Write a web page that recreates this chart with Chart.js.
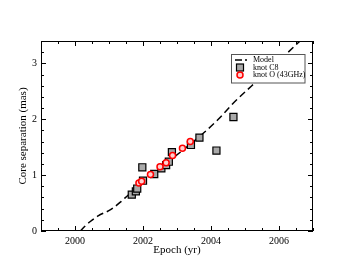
<!DOCTYPE html>
<html>
<head>
<meta charset="utf-8">
<script src="https://cdn.jsdelivr.net/npm/chart.js@4/dist/chart.umd.min.js"></script>
<style>
  body { margin: 0; background: #fff; }
  canvas { display: block; }
</style>
</head>
<body>
<canvas id="sep" width="353" height="273"></canvas>
<script>
// model curve
const modelEpoch = [2000.16, 2000.3, 2000.45, 2000.68, 2001.07, 2001.36, 2001.56, 2001.7, 2002.2, 2002.7, 2003.2, 2003.68, 2004.2, 2004.66, 2005.2, 2005.7, 2006.2, 2006.62];
const modelSep = [0, 0.09, 0.17, 0.27, 0.39, 0.53, 0.64, 0.71, 0.97, 1.22, 1.46, 1.70, 1.99, 2.29, 2.60, 2.88, 3.16, 3.40];

// knot C8
const c8Epoch = [2001.67, 2001.79, 2001.83, 2002.0, 2001.98, 2002.33, 2002.54, 2002.68, 2002.76, 2002.85, 2003.41, 2003.66, 2004.16, 2004.66];
const c8Sep = [0.65, 0.71, 0.76, 0.90, 1.14, 1.02, 1.12, 1.18, 1.24, 1.41, 1.54, 1.67, 1.44, 2.04];

// knot O (43GHz)
const oEpoch = [2001.88, 2001.96, 2002.22, 2002.5, 2002.68, 2002.87, 2003.16, 2003.39];
const oSep = [0.86, 0.89, 1.01, 1.15, 1.22, 1.35, 1.48, 1.60];

const xMajor = [2000, 2002, 2004, 2006];
const yMajor = [0, 1, 2, 3];

const serif = "'Liberation Serif', 'Times New Roman', serif";

function toPoints(xs, ys) {
  return xs.map((x, i) => ({ x: x, y: ys[i] }));
}

function isMajor(v, list) {
  return list.some((m) => Math.abs(m - v) < 1e-6);
}

// frame, inward ticks on all four sides, legend
const framePlugin = {
  id: "frame",
  afterDraw(chart) {
    const ctx = chart.ctx;
    const a = chart.chartArea;
    const xs = chart.scales.x;
    const ys = chart.scales.y;
    ctx.save();
    ctx.strokeStyle = "#000";
    ctx.lineWidth = 1;
    ctx.strokeRect(a.left + 0.5, a.top + 0.5, a.right - a.left - 1, a.bottom - a.top - 1);

    xs.ticks.forEach((t) => {
      const px = Math.round(xs.getPixelForValue(t.value)) + 0.5;
      const len = isMajor(t.value, xMajor) ? 5 : 3;
      ctx.beginPath();
      ctx.moveTo(px, a.bottom);
      ctx.lineTo(px, a.bottom - len);
      ctx.moveTo(px, a.top);
      ctx.lineTo(px, a.top + len);
      ctx.stroke();
    });
    ys.ticks.forEach((t) => {
      const py = Math.round(ys.getPixelForValue(t.value)) + 0.5;
      const len = isMajor(t.value, yMajor) ? 5 : 3;
      ctx.beginPath();
      ctx.moveTo(a.left, py);
      ctx.lineTo(a.left + len, py);
      ctx.moveTo(a.right, py);
      ctx.lineTo(a.right - len, py);
      ctx.stroke();
    });

    // legend box
    const lx = 231.5, ly = 54.5, lw = 73.5, lh = 28.5;
    ctx.fillStyle = "#fff";
    ctx.fillRect(lx, ly, lw, lh);
    ctx.strokeStyle = "#555";
    ctx.strokeRect(lx, ly, lw, lh);

    const ds = chart.data.datasets;
    const rows = [60, 67.5, 75];
    ctx.font = "8px " + serif;
    ctx.textBaseline = "middle";
    ctx.textAlign = "left";

    ctx.strokeStyle = "#000";
    ctx.lineWidth = 1.5;
    ctx.setLineDash([7, 3]);
    ctx.beginPath();
    ctx.moveTo(235, rows[0]);
    ctx.lineTo(247, rows[0]);
    ctx.stroke();
    ctx.setLineDash([]);

    ctx.fillStyle = ds[1].backgroundColor;
    ctx.strokeStyle = ds[1].borderColor;
    ctx.lineWidth = 1.2;
    ctx.fillRect(236.5, rows[1] - 3.5, 7, 7);
    ctx.strokeRect(236.5, rows[1] - 3.5, 7, 7);

    ctx.fillStyle = ds[2].backgroundColor;
    ctx.strokeStyle = ds[2].borderColor;
    ctx.lineWidth = 1.5;
    ctx.beginPath();
    ctx.arc(240, rows[2], 3, 0, Math.PI * 2);
    ctx.fill();
    ctx.stroke();

    ctx.fillStyle = "#000";
    ds.forEach((d, i) => ctx.fillText(d.label, 253, rows[i]));
    ctx.restore();
  },
};

new Chart(document.getElementById("sep"), {
  type: "scatter",
  data: {
    datasets: [
      {
        label: "Model",
        data: toPoints(modelEpoch, modelSep),
        showLine: true,
        borderColor: "#000",
        borderWidth: 1.5,
        borderDash: [7, 4],
        pointRadius: 0,
        fill: false,
        cubicInterpolationMode: "monotone",
        order: 3,
      },
      {
        label: "knot C8",
        data: toPoints(c8Epoch, c8Sep),
        pointStyle: "rect",
        pointRadius: 5,
        backgroundColor: "#a9a9a9",
        borderColor: "#000",
        borderWidth: 1.2,
        order: 2,
      },
      {
        label: "knot O (43GHz)",
        data: toPoints(oEpoch, oSep),
        pointStyle: "circle",
        pointRadius: 3,
        backgroundColor: "#ffd0d0",
        borderColor: "#ff0000",
        borderWidth: 1.5,
        order: 1,
      },
    ],
  },
  options: {
    responsive: false,
    animation: false,
    layout: { padding: { left: 0, right: 40, top: 41, bottom: 0 } },
    plugins: {
      legend: { display: false },
      tooltip: { enabled: false },
    },
    scales: {
      x: {
        type: "linear",
        min: 1999,
        max: 2007,
        grid: { display: false, drawTicks: false },
        border: { display: false },
        afterFit: (s) => { s.height = 42; },
        ticks: {
          stepSize: 0.5,
          autoSkip: false,
          maxRotation: 0,
          padding: 4,
          color: "#000",
          font: { family: serif, size: 10 },
          callback: (v) => (isMajor(v, xMajor) ? String(Math.round(v)) : ""),
        },
        title: {
          display: true,
          text: "Epoch (yr)",
          color: "#000",
          font: { family: serif, size: 11 },
          padding: { top: 0, bottom: 16 },
        },
      },
      y: {
        min: 0,
        max: 3.4,
        grid: { display: false, drawTicks: false },
        border: { display: false },
        afterFit: (s) => { s.width = 41; },
        ticks: {
          stepSize: 0.2,
          autoSkip: false,
          padding: 4,
          color: "#000",
          font: { family: serif, size: 10 },
          callback: (v) => (isMajor(v, yMajor) ? String(Math.round(v)) : ""),
        },
        title: {
          display: true,
          text: "Core separation (mas)",
          color: "#000",
          font: { family: serif, size: 11 },
          padding: { top: 17, bottom: 0 },
        },
      },
    },
  },
  plugins: [framePlugin],
});
</script>
</body>
</html>
